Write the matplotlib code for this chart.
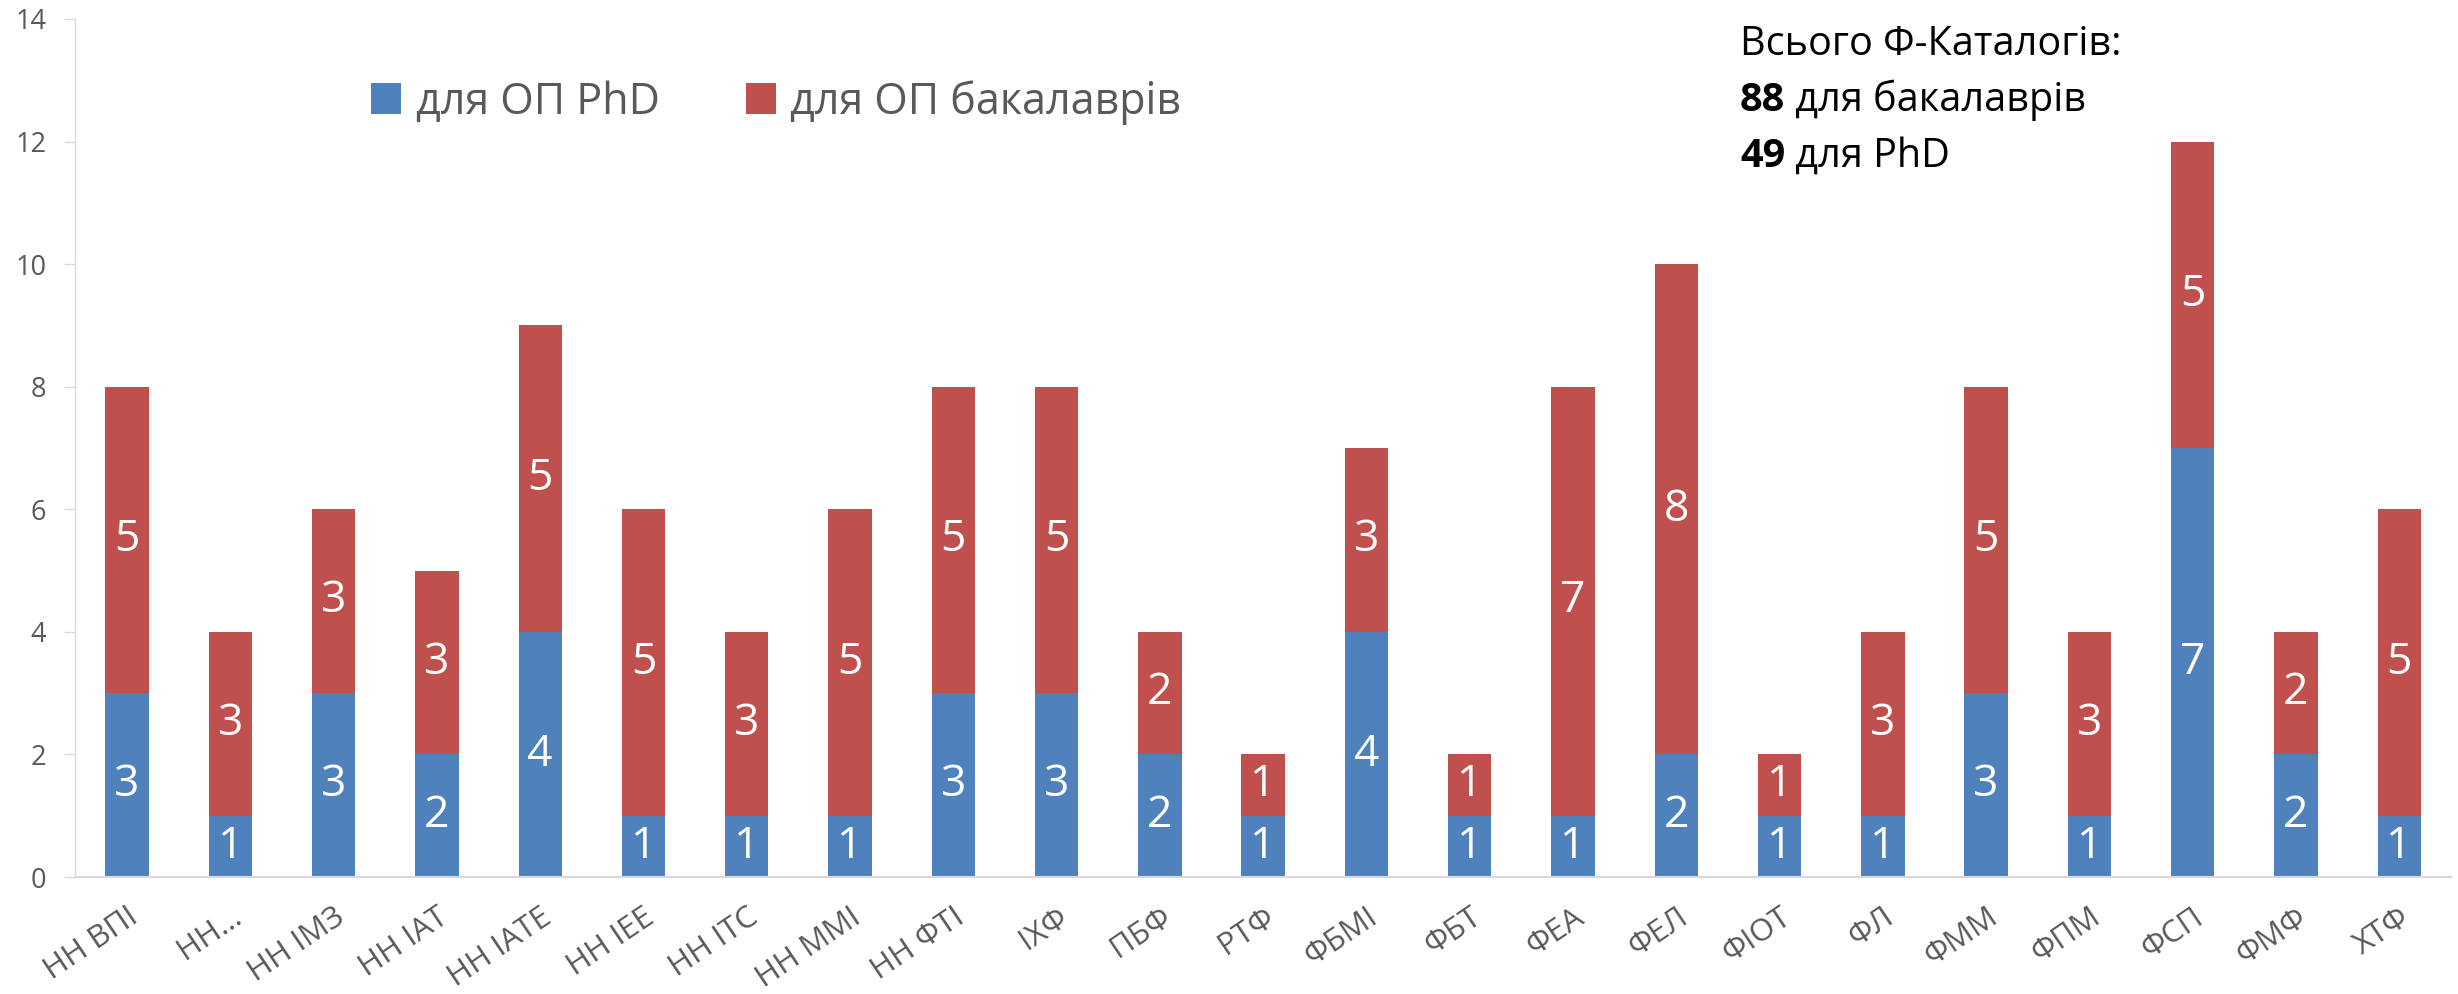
import matplotlib
matplotlib.use("Agg")
import matplotlib.pyplot as plt
import numpy as np

plt.rcParams['font.family'] = ['Open Sans', 'DejaVu Sans']

categories = ["НН ВПІ", "НН…", "НН ІМЗ", "НН ІАТ", "НН ІАТЕ", "НН ІЕЕ", "НН ІТС",
              "НН ММІ", "НН ФТІ", "ІХФ", "ПБФ", "РТФ", "ФБМІ", "ФБТ", "ФЕА", "ФЕЛ",
              "ФІОТ", "ФЛ", "ФММ", "ФПМ", "ФСП", "ФМФ", "ХТФ"]
phd = [3, 1, 3, 2, 4, 1, 1, 1, 3, 3, 2, 1, 4, 1, 1, 2, 1, 1, 3, 1, 7, 2, 1]
bachelor = [5, 3, 3, 3, 5, 5, 3, 5, 5, 5, 2, 1, 3, 1, 7, 8, 1, 3, 5, 3, 5, 2, 5]
series_names = ["для ОП PhD", "для ОП бакалаврів"]
y_ticks = [0, 2, 4, 6, 8, 10, 12, 14]
total_bach = 88
total_phd = 49

BLUE = "#4F81BD"
RED = "#C0504D"
GRAY_TXT = "#595959"
GRID = "#D9D9D9"

fig = plt.figure(figsize=(24.58, 9.94), dpi=100)
ax = fig.add_axes([0.0307, 0.1177, 0.9664, 0.8632])

x = np.arange(len(categories))
w = 0.42
ax.bar(x, phd, w, color=BLUE, label=series_names[0], zorder=2)
ax.bar(x, bachelor, w, bottom=phd, color=RED, label=series_names[1], zorder=2)

for xi, p, b in zip(x, phd, bachelor):
    ax.text(xi, p / 2, str(p), ha='center', va='center', color='white', fontsize=32, zorder=3)
    ax.text(xi, p + b / 2, str(b), ha='center', va='center', color='white', fontsize=32, zorder=3)

ax.set_xlim(-0.5, len(categories) - 0.5)
ax.set_ylim(0, 14)
ax.set_yticks(y_ticks)
ax.set_yticklabels([str(v) for v in y_ticks])
ax.set_xticks(x)
ax.set_xticklabels(categories, rotation=34, ha='right', va='top', rotation_mode='anchor')

ax.tick_params(axis='y', length=8, width=1, color=GRID, labelsize=19.5, labelcolor=GRAY_TXT, pad=13)
ax.tick_params(axis='x', length=0, labelsize=22.5, labelcolor=GRAY_TXT, pad=18)

for s in ['top', 'right']:
    ax.spines[s].set_visible(False)
ax.spines['left'].set_color(GRID)
ax.spines['left'].set_linewidth(1.0)
ax.spines['bottom'].set_color(GRID)
ax.spines['bottom'].set_linewidth(1.5)

leg = ax.legend(loc='center left', bbox_to_anchor=(0.1245, 0.903), ncol=2, frameon=False,
                fontsize=31, handlelength=0.70, handleheight=0.70, handletextpad=0.33,
                columnspacing=2.0, borderpad=0, borderaxespad=0)
for t in leg.get_texts():
    t.set_color(GRAY_TXT)

tx = 1740 / 2458
FS = 28.5
fig.text(tx, 1 - 55 / 994, "Всього Ф-Каталогів:", fontsize=FS, color='black', va='baseline', ha='left')
t1 = fig.text(tx, 1 - 111 / 994, str(total_bach), fontsize=FS, color='black', fontweight='bold',
              va='baseline', ha='left')
t2 = fig.text(tx, 1 - 167 / 994, str(total_phd), fontsize=FS, color='black', fontweight='bold',
              va='baseline', ha='left')

fig.canvas.draw()
r = fig.canvas.get_renderer()
for tb, rest in [(t1, " для бакалаврів"), (t2, " для PhD")]:
    bb = tb.get_window_extent(r)
    xr = bb.x1 / fig.bbox.width
    fig.text(xr, tb.get_position()[1], rest, fontsize=FS, color='black', va='baseline', ha='left')

fig.savefig("out.png", dpi=100)
